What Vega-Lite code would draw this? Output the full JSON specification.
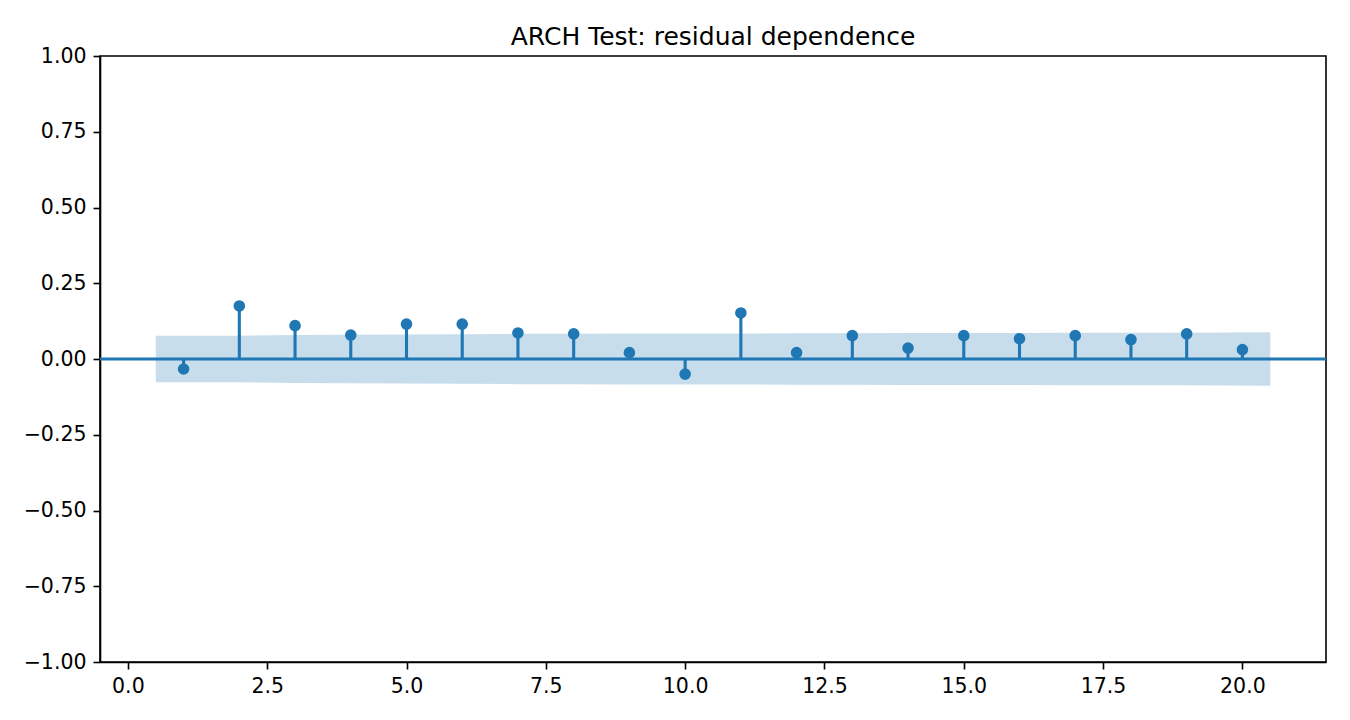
{
  "$schema": "https://vega.github.io/schema/vega-lite/v6.json",
  "autosize": {"type": "none"},
  "padding": {"left": 100, "top": 56, "right": 24, "bottom": 58},
  "width": 1226,
  "height": 606,
  "title": {
    "text": "ARCH Test: residual dependence",
    "font": "DejaVu Sans",
    "fontSize": 25,
    "fontWeight": "normal",
    "color": "black",
    "anchor": "middle",
    "baseline": "alphabetic",
    "offset": 13,
    "dy": 37
  },
  "datasets": {
    "acf": [
      {"lag": 1, "acf": -0.033},
      {"lag": 2, "acf": 0.175},
      {"lag": 3, "acf": 0.110},
      {"lag": 4, "acf": 0.079},
      {"lag": 5, "acf": 0.115},
      {"lag": 6, "acf": 0.115},
      {"lag": 7, "acf": 0.086},
      {"lag": 8, "acf": 0.083},
      {"lag": 9, "acf": 0.021},
      {"lag": 10, "acf": -0.050},
      {"lag": 11, "acf": 0.152},
      {"lag": 12, "acf": 0.021},
      {"lag": 13, "acf": 0.077},
      {"lag": 14, "acf": 0.036},
      {"lag": 15, "acf": 0.077},
      {"lag": 16, "acf": 0.067},
      {"lag": 17, "acf": 0.077},
      {"lag": 18, "acf": 0.064},
      {"lag": 19, "acf": 0.083},
      {"lag": 20, "acf": 0.031}
    ],
    "band": [
      {"lag": 0.5, "lo": -0.077, "hi": 0.077},
      {"lag": 2, "lo": -0.077, "hi": 0.077},
      {"lag": 3, "lo": -0.079, "hi": 0.079},
      {"lag": 4, "lo": -0.080, "hi": 0.080},
      {"lag": 5, "lo": -0.081, "hi": 0.081},
      {"lag": 6, "lo": -0.082, "hi": 0.082},
      {"lag": 7, "lo": -0.083, "hi": 0.083},
      {"lag": 8, "lo": -0.083, "hi": 0.083},
      {"lag": 9, "lo": -0.084, "hi": 0.084},
      {"lag": 10, "lo": -0.084, "hi": 0.084},
      {"lag": 11, "lo": -0.084, "hi": 0.084},
      {"lag": 12, "lo": -0.085, "hi": 0.085},
      {"lag": 13, "lo": -0.085, "hi": 0.085},
      {"lag": 14, "lo": -0.086, "hi": 0.086},
      {"lag": 15, "lo": -0.086, "hi": 0.086},
      {"lag": 16, "lo": -0.086, "hi": 0.086},
      {"lag": 17, "lo": -0.087, "hi": 0.087},
      {"lag": 18, "lo": -0.087, "hi": 0.087},
      {"lag": 19, "lo": -0.087, "hi": 0.087},
      {"lag": 20.5, "lo": -0.088, "hi": 0.088}
    ]
  },
  "layer": [
    {
      "data": {"name": "acf"},
      "mark": {"type": "rule", "color": "#1f77b4", "strokeWidth": 3.1},
      "encoding": {
        "x": {
          "field": "lag",
          "type": "quantitative",
          "scale": {"domain": [-0.5, 21.5], "nice": false, "zero": false},
          "axis": {
            "title": null,
            "values": [0, 2.5, 5, 7.5, 10, 12.5, 15, 17.5, 20],
            "format": ".1f",
            "grid": false
          }
        },
        "y": {
          "field": "acf",
          "type": "quantitative",
          "scale": {"domain": [-1, 1], "nice": false, "zero": false},
          "axis": {
            "title": null,
            "values": [-1, -0.75, -0.5, -0.25, 0, 0.25, 0.5, 0.75, 1],
            "format": ".2f",
            "grid": false
          }
        },
        "y2": {"datum": 0}
      }
    },
    {
      "data": {"name": "band"},
      "mark": {"type": "area", "color": "#1f77b4", "opacity": 0.25, "interpolate": "linear"},
      "encoding": {
        "x": {"field": "lag", "type": "quantitative"},
        "y": {"field": "lo", "type": "quantitative"},
        "y2": {"field": "hi"}
      }
    },
    {
      "data": {"values": [{"v": 0}]},
      "mark": {"type": "rule", "color": "#1f77b4", "strokeWidth": 3.1},
      "encoding": {
        "y": {"field": "v", "type": "quantitative"}
      }
    },
    {
      "data": {"name": "acf"},
      "mark": {"type": "point", "filled": true, "shape": "circle", "color": "#1f77b4", "opacity": 1, "size": 135},
      "encoding": {
        "x": {"field": "lag", "type": "quantitative"},
        "y": {"field": "acf", "type": "quantitative"}
      }
    }
  ],
  "config": {
    "view": {"stroke": "black", "strokeWidth": 1.6},
    "axis": {
      "labelFont": "DejaVu Sans",
      "labelFontSize": 20.5,
      "labelColor": "black",
      "domainColor": "black",
      "domainWidth": 1.6,
      "tickColor": "black",
      "tickWidth": 1.6,
      "tickSize": 7,
      "labelPadding": 7,
      "labelFlush": false,
      "labelOverlap": false
    }
  }
}
